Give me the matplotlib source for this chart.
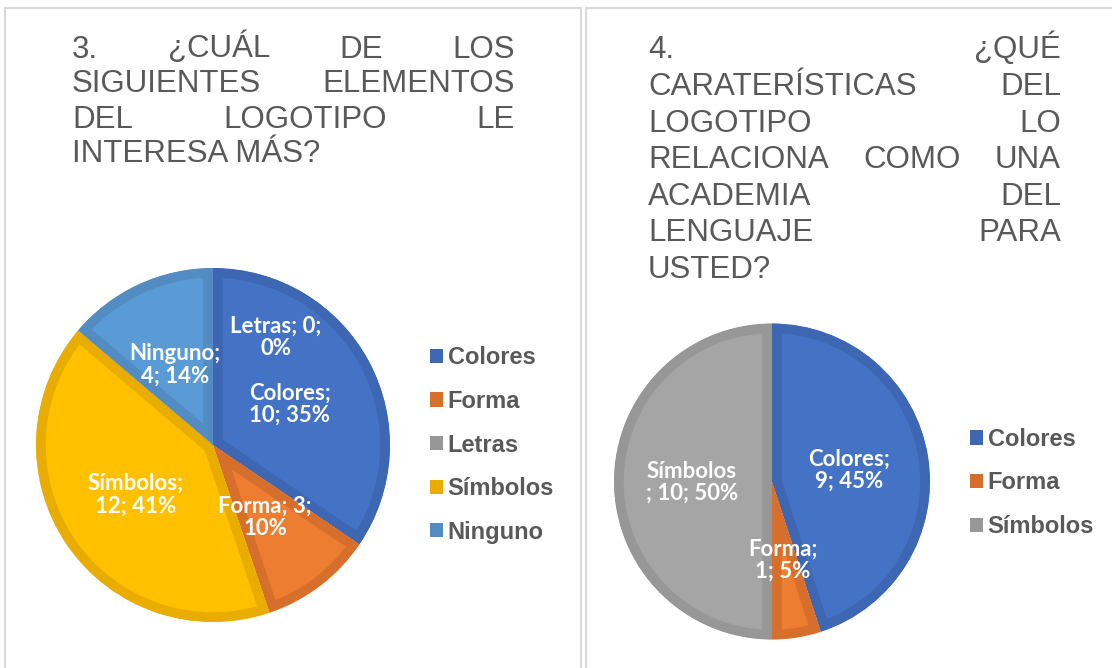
import matplotlib.pyplot as plt
from matplotlib.patches import Rectangle, Patch

W, H = 1112, 668

# Pregunta 3
q3_names = ['Colores', 'Forma', 'Letras', 'Símbolos', 'Ninguno']
q3_values = [10, 3, 0, 12, 4]
q3_pcts = ['35%', '10%', '0%', '41%', '14%']
q3_breaks = [1, 2, 2, 1, 1]

# Pregunta 4
q4_names = ['Colores', 'Forma', 'Símbolos']
q4_values = [9, 1, 10]
q4_pcts = ['45%', '5%', '50%']
q4_breaks = [1, 1, 0]

q3_title = [['3.', '¿CUÁL', 'DE', 'LOS'],
            ['SIGUIENTES', 'ELEMENTOS'],
            ['DEL', 'LOGOTIPO', 'LE'],
            ['INTERESA MÁS?']]
q4_title = [['4.', '¿QUÉ'],
            ['CARATERÍSTICAS', 'DEL'],
            ['LOGOTIPO', 'LO'],
            ['RELACIONA', 'COMO', 'UNA'],
            ['ACADEMIA', 'DEL'],
            ['LENGUAJE', 'PARA'],
            ['USTED?']]

face = {'Colores': '#4472C4', 'Forma': '#ED7D31', 'Letras': '#A5A5A5',
        'Símbolos': '#FFC000', 'Ninguno': '#5B9BD5'}
edge = {'Colores': '#3D66B3', 'Forma': '#D66F2B', 'Letras': '#979797',
        'Símbolos': '#E8AD00', 'Ninguno': '#528CC2'}
q4_face = {'Colores': '#4472C4', 'Forma': '#ED7D31', 'Símbolos': '#A5A5A5'}
q4_edge = {'Colores': '#3D66B3', 'Forma': '#D66F2B', 'Símbolos': '#979797'}

# label positions as fractions of the radius
q3_label_xy = [(0.435, 0.232), (0.294, -0.407), (0.356, 0.61), (-0.44, -0.28), (-0.215, 0.452)]
q4_label_xy = [(0.487, 0.073), (0.068, -0.497), (-0.506, -0.006)]

title_kw = dict(fontsize=22.5, color='#595959', family='Liberation Sans', va='baseline', ha='left')
label_kw = dict(fontsize=16, color='white', fontweight='bold', family=['Lato', 'DejaVu Sans'],
                ha='center', va='center', linespacing=1.08)


def make_label(name, v, pct, brk):
    if brk == 0:
        return f'{name}\n; {v}; {pct}'
    if brk == 1:
        return f'{name};\n{v}; {pct}'
    return f'{name}; {v};\n{pct}'


def draw_pie(cx, cy, r, names, values, pcts, breaks, label_xy, fcol, ecol):
    ax = fig.add_axes([(cx - r) / W, (H - cy - r) / H, 2 * r / W, 2 * r / H])
    wedges, _ = ax.pie(values, startangle=90, counterclock=False,
                       colors=[fcol[n] for n in names], radius=1)
    for w, n in zip(wedges, names):
        w.set_edgecolor(ecol[n])
        w.set_linewidth(14)
        # keep the border inside each slice
        w.set_clip_on(True)
        w.set_clip_path(w.get_path(), w.get_transform())
    ax.set_xlim(-1, 1)
    ax.set_ylim(-1, 1)
    for n, v, p, b, (x, y) in zip(names, values, pcts, breaks, label_xy):
        ax.text(x, y, make_label(n, v, p, b), **label_kw)
    return ax


def justified_title(lines, x0, x1, baselines):
    r = fig.canvas.get_renderer()
    for words, yb in zip(lines, baselines):
        texts = [fig.text(x0 / W, 1 - yb / H, w, **title_kw) for w in words]
        if len(texts) == 1:
            continue
        widths = [t.get_window_extent(r).width for t in texts]
        gap = (x1 - x0 - sum(widths)) / (len(texts) - 1)
        x = x0
        for t, w in zip(texts, widths):
            t.set_x(x / W)
            x += w + gap


fig = plt.figure(figsize=(W / 100, H / 100), dpi=100)

# panel borders
fig.add_artist(Rectangle((5 / W, -0.05), 576 / W, 1.05 - 7.5 / H, transform=fig.transFigure,
                         fill=False, edgecolor='#D9D9D9', linewidth=1.5))
fig.add_artist(Rectangle((585.5 / W, -0.05), 1.0, 1.05 - 7.5 / H, transform=fig.transFigure,
                         fill=False, edgecolor='#D9D9D9', linewidth=1.5))

draw_pie(213, 445, 177, q3_names, q3_values, q3_pcts, q3_breaks, q3_label_xy, face, edge)
draw_pie(772, 481.5, 158, q4_names, q4_values, q4_pcts, q4_breaks, q4_label_xy, q4_face, q4_edge)

leg_kw = dict(frameon=False, loc='center left', borderpad=0, borderaxespad=0,
              handlelength=0.55, handleheight=0.55, handletextpad=0.2, labelspacing=0.87,
              prop={'family': 'Liberation Sans', 'weight': 'bold', 'size': 17},
              labelcolor='#595959')
fig.legend(handles=[Patch(facecolor=edge[n], edgecolor='none') for n in q3_names],
           labels=q3_names, bbox_to_anchor=(430 / W, 1 - 445 / H), **leg_kw)
fig.legend(handles=[Patch(facecolor=q4_edge[n], edgecolor='none') for n in q4_names],
           labels=q4_names, bbox_to_anchor=(970 / W, 1 - 483 / H), **leg_kw)

justified_title(q3_title, 72, 515, [57.5, 92.5, 127.5, 162.5])
justified_title(q4_title, 648, 1061, [58, 95, 131.5, 168, 205, 241.5, 278])

fig.savefig('out.png', dpi=100)
